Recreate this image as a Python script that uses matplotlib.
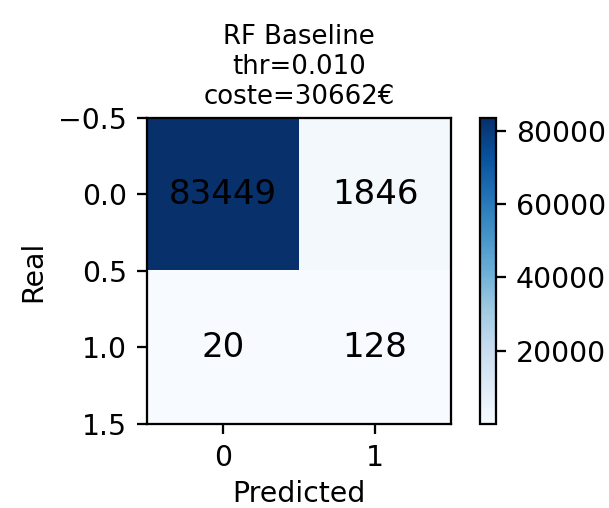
import numpy as np
import matplotlib
matplotlib.use("Agg")
import matplotlib.pyplot as plt

cm = np.array([[83449, 1846],
               [20, 128]])
title = "RF Baseline\nthr=0.010\ncoste=30662€"
xlabel = "Predicted"
ylabel = "Real"
cbar_ticks = [20000, 40000, 60000, 80000]

DPI = 204
fig = plt.figure(figsize=(609 / DPI, 508 / DPI), dpi=DPI)
ax = fig.add_axes([0.2414, 0.1654, 0.4992, 0.6024])
cax = fig.add_axes([0.7882, 0.1654, 0.0263, 0.6024])

im = ax.imshow(cm, cmap="Blues", aspect="auto")
for i in range(cm.shape[0]):
    for j in range(cm.shape[1]):
        ax.text(j, i, str(cm[i, j]), ha="center", va="center", fontsize=12, color="black")

ax.set_xticks([0, 1])
ax.set_yticks([-0.5, 0.0, 0.5, 1.0, 1.5])
ax.set_ylim(1.5, -0.5)
ax.tick_params(labelsize=10)
ax.set_xlabel(xlabel, fontsize=10, labelpad=3)
ax.set_ylabel(ylabel, fontsize=10)
ax.set_title(title, fontsize=9.2, pad=5)

cb = fig.colorbar(im, cax=cax)
cb.set_ticks(cbar_ticks)
cb.ax.tick_params(labelsize=10)

fig.savefig("out.png", dpi=DPI)
